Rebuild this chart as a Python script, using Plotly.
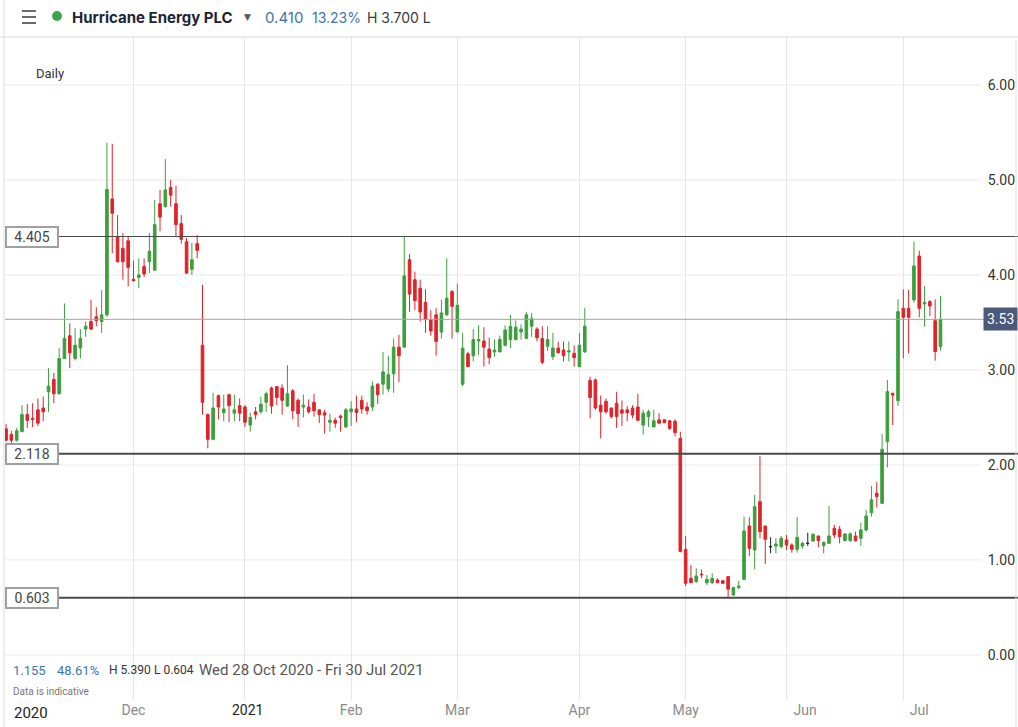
import plotly.graph_objects as go
import pandas as pd

# ---------------- data ----------------
holidays = ['2020-12-25', '2020-12-28', '2021-01-01', '2021-04-02',
            '2021-04-05', '2021-05-03', '2021-05-31']

opens = [2.38, 2.32, 2.26, 2.35, 2.53, 2.49, 2.58, 2.60, 2.77, 2.90,
         2.75, 3.12, 3.36, 3.12, 3.23, 3.43, 3.51, 3.56, 3.51, 3.58,
         4.80, 4.40, 4.28, 4.36, 3.955, 3.975, 4.09, 4.14, 4.05, 4.75,
         4.72, 4.92, 4.75, 4.54, 4.35, 4.06, 4.33, 3.26, 2.53, 2.27,
         2.73, 2.55, 2.74, 2.545, 2.625, 2.61, 2.42, 2.56, 2.56, 2.66,
         2.81, 2.825, 2.81, 2.62, 2.78, 2.68, 2.61, 2.61, 2.66, 2.58,
         2.55, 2.45, 2.47, 2.515, 2.40, 2.56, 2.59, 2.68, 2.61, 2.61,
         2.85, 2.85, 2.80, 2.96, 3.24, 3.24, 4.16, 3.95, 3.86, 3.71,
         3.53, 3.58, 3.40, 3.58, 3.825, 3.40, 2.85, 3.17, 3.15, 3.305,
         3.305, 3.22, 3.19, 3.19, 3.26, 3.32, 3.32, 3.40, 3.33, 3.46,
         3.43, 3.33, 3.25, 3.14, 3.23, 3.21, 3.19, 3.175, 3.035, 3.19,
         2.89, 2.895, 2.63, 2.67, 2.60, 2.65, 2.58, 2.58, 2.60, 2.61,
         2.42, 2.51, 2.40, 2.475, 2.475, 2.465, 2.46, 2.28, 1.11, 0.807,
         0.772, 0.85, 0.761, 0.761, 0.789, 0.782, 0.825, 0.632, 0.709, 0.796,
         1.358, 1.105, 1.614, 1.358, 1.14, 1.147, 1.14, 1.211, 1.158, 1.112,
         1.147, 1.175, 1.20, 1.253, 1.151, 1.175, 1.333, 1.323, 1.204, 1.204,
         1.253, 1.228, 1.316, 1.498, 1.702, 1.596, 2.246, 2.754, 2.677, 3.649,
         3.649, 3.737, 4.20, 3.695, 3.719, 3.519, 3.246]

highs = [2.43, 2.36, 2.39, 2.63, 2.64, 2.65, 2.70, 2.72, 3.02, 2.97,
         3.23, 3.70, 3.49, 3.44, 3.43, 3.51, 3.74, 3.66, 3.84, 5.39,
         5.38, 4.63, 4.44, 4.41, 4.15, 4.175, 4.175, 4.44, 4.79, 4.895,
         5.22, 5.00, 4.94, 4.63, 4.39, 4.34, 4.42, 3.895, 2.54, 2.76,
         2.74, 2.74, 2.75, 2.74, 2.70, 2.63, 2.55, 2.61, 2.72, 2.77,
         2.825, 2.83, 2.85, 3.05, 2.80, 2.70, 2.74, 2.69, 2.75, 2.585,
         2.58, 2.54, 2.50, 2.53, 2.60, 2.67, 2.73, 2.73, 2.66, 2.88,
         2.86, 3.19, 3.15, 3.33, 3.37, 4.41, 4.22, 4.035, 3.95, 3.85,
         3.63, 3.65, 3.74, 4.175, 3.84, 3.91, 3.39, 3.19, 3.43, 3.47,
         3.45, 3.34, 3.32, 3.36, 3.47, 3.58, 3.52, 3.48, 3.61, 3.60,
         3.45, 3.46, 3.46, 3.39, 3.30, 3.30, 3.30, 3.26, 3.39, 3.65,
         2.93, 2.91, 2.73, 2.70, 2.60, 2.77, 2.68, 2.62, 2.63, 2.75,
         2.58, 2.58, 2.58, 2.545, 2.48, 2.475, 2.48, 2.35, 1.25, 0.947,
         0.912, 0.90, 0.842, 0.86, 0.807, 0.79, 0.832, 0.719, 0.779, 1.456,
         1.449, 1.684, 2.095, 1.36, 1.239, 1.228, 1.253, 1.263, 1.175, 1.449,
         1.19, 1.288, 1.28, 1.253, 1.193, 1.568, 1.368, 1.358, 1.28, 1.29,
         1.298, 1.393, 1.526, 1.779, 1.82, 2.326, 2.895, 2.76, 3.744, 3.849,
         3.842, 4.351, 4.256, 3.884, 3.737, 3.744, 3.779]

lows = [2.245, 2.22, 2.245, 2.35, 2.39, 2.40, 2.41, 2.46, 2.56, 2.65,
        2.74, 3.12, 3.02, 3.10, 3.12, 3.35, 3.42, 3.46, 3.39, 3.56,
        4.23, 4.13, 3.95, 3.88, 3.93, 3.86, 3.98, 4.02, 4.05, 4.46,
        4.71, 4.72, 4.41, 4.33, 4.01, 4.00, 4.175, 2.53, 2.175, 2.26,
        2.48, 2.46, 2.45, 2.46, 2.46, 2.40, 2.35, 2.48, 2.54, 2.56,
        2.54, 2.63, 2.53, 2.61, 2.48, 2.40, 2.50, 2.54, 2.51, 2.44,
        2.33, 2.35, 2.39, 2.35, 2.39, 2.41, 2.45, 2.54, 2.53, 2.57,
        2.64, 2.74, 2.765, 2.76, 2.87, 3.24, 3.61, 3.63, 3.51, 3.39,
        3.36, 3.15, 3.33, 3.57, 3.33, 3.40, 2.83, 3.03, 3.09, 3.16,
        3.035, 3.06, 3.14, 3.19, 3.25, 3.23, 3.31, 3.32, 3.33, 3.35,
        3.30, 3.06, 3.20, 3.105, 3.175, 3.09, 3.09, 3.035, 3.03, 3.18,
        2.49, 2.58, 2.28, 2.54, 2.49, 2.39, 2.41, 2.46, 2.49, 2.46,
        2.32, 2.40, 2.40, 2.43, 2.44, 2.37, 2.30, 1.08, 0.726, 0.754,
        0.76, 0.807, 0.737, 0.747, 0.754, 0.75, 0.604, 0.621, 0.691, 0.79,
        1.042, 0.902, 1.228, 0.958, 1.07, 1.07, 1.123, 1.105, 1.077, 1.077,
        1.12, 1.147, 1.19, 1.133, 1.07, 1.168, 1.228, 1.175, 1.193, 1.19,
        1.193, 1.147, 1.298, 1.456, 1.554, 1.59, 1.975, 2.421, 2.621, 3.123,
        3.175, 3.709, 3.554, 3.456, 3.568, 3.098, 3.203]

closes = [2.26, 2.26, 2.36, 2.53, 2.47, 2.48, 2.44, 2.56, 2.83, 2.75,
          3.12, 3.33, 3.18, 3.26, 3.33, 3.46, 3.43, 3.52, 3.58, 4.90,
          4.65, 4.14, 4.14, 4.08, 3.94, 4.00, 4.01, 4.25, 4.53, 4.61,
          4.895, 4.84, 4.53, 4.375, 4.02, 4.16, 4.26, 2.66, 2.27, 2.60,
          2.61, 2.59, 2.625, 2.58, 2.545, 2.45, 2.50, 2.53, 2.64, 2.75,
          2.62, 2.71, 2.68, 2.75, 2.57, 2.54, 2.63, 2.56, 2.57, 2.53,
          2.525, 2.47, 2.44, 2.50, 2.58, 2.59, 2.55, 2.59, 2.57, 2.83,
          2.74, 2.98, 2.95, 3.24, 3.15, 3.99, 3.80, 3.73, 3.61, 3.53,
          3.41, 3.30, 3.60, 3.755, 3.67, 3.68, 3.23, 3.035, 3.32, 3.32,
          3.24, 3.13, 3.21, 3.32, 3.42, 3.46, 3.45, 3.43, 3.58, 3.54,
          3.34, 3.08, 3.32, 3.23, 3.18, 3.15, 3.20, 3.13, 3.26, 3.46,
          2.71, 2.60, 2.56, 2.56, 2.51, 2.51, 2.545, 2.55, 2.525, 2.47,
          2.545, 2.56, 2.465, 2.44, 2.445, 2.385, 2.34, 1.09, 0.755, 0.761,
          0.832, 0.845, 0.796, 0.807, 0.761, 0.754, 0.693, 0.709, 0.726, 1.305,
          1.123, 1.561, 1.298, 1.218, 1.14, 1.168, 1.228, 1.158, 1.112, 1.239,
          1.175, 1.175, 1.27, 1.204, 1.186, 1.253, 1.263, 1.246, 1.274, 1.274,
          1.204, 1.316, 1.463, 1.632, 1.667, 2.165, 2.772, 2.737, 3.614, 3.554,
          3.554, 4.095, 3.649, 3.709, 3.674, 3.193, 3.533]

levels = [4.405, 2.118, 0.603]
last_price = 3.533
y_ticks = [0, 1, 2, 3, 4, 5, 6]
month_starts = ['2020-12-01', '2021-01-04', '2021-02-01', '2021-03-01', '2021-04-01',
                '2021-05-04', '2021-06-01', '2021-07-01']
x_tick_vals = ['2020-12-01', '2021-01-04 12:00', '2021-02-01', '2021-03-01', '2021-04-01',
               '2021-05-04', '2021-06-04 12:00', '2021-07-06']
x_tick_text = ['Dec', '2021', 'Feb', 'Mar', 'Apr', 'May', 'Jun', 'Jul']

dates = pd.bdate_range('2020-10-28', '2021-07-30', freq='C', holidays=holidays)[:len(opens)]
dates = [d.strftime('%Y-%m-%d') for d in dates]

# ---------------- figure ----------------
W, H = 1018, 727
ML, MR, MT, MB = 5, 0, 37, 27


def px(x):
    return (x - ML) / (W - ML - MR)


def py(y):
    return (H - MB - y) / (H - MT - MB)


GREEN = '#3c9f3c'
RED = '#e0232a'

reg = [i for i in range(len(opens)) if opens[i] != closes[i]]
doj = [i for i in range(len(opens)) if opens[i] == closes[i]]

fig = go.Figure()
fig.add_trace(go.Candlestick(
    x=[dates[i] for i in reg], open=[opens[i] for i in reg], high=[highs[i] for i in reg],
    low=[lows[i] for i in reg], close=[closes[i] for i in reg],
    increasing=dict(line=dict(color=GREEN, width=1), fillcolor=GREEN),
    decreasing=dict(line=dict(color=RED, width=1), fillcolor=RED),
    showlegend=False, hoverinfo='skip'))
fig.add_trace(go.Candlestick(
    x=[dates[i] for i in doj], open=[opens[i] for i in doj], high=[highs[i] for i in doj],
    low=[lows[i] for i in doj], close=[closes[i] for i in doj],
    increasing=dict(line=dict(color='#222222', width=1), fillcolor='#222222'),
    decreasing=dict(line=dict(color='#222222', width=1), fillcolor='#222222'),
    showlegend=False, hoverinfo='skip'))

shapes = []
# horizontal gridlines (stop before the right-hand labels)
for v in y_ticks:
    shapes.append(dict(type='line', xref='paper', yref='y', x0=0, x1=px(981), y0=v, y1=v,
                       line=dict(color='#e9e9e9', width=1), layer='below'))
# level lines
shapes.append(dict(type='line', xref='paper', yref='y', x0=0, x1=1, y0=last_price, y1=last_price,
                   line=dict(color='#a3a3a3', width=1)))
for lv, w in zip(levels, [1, 2, 2]):
    shapes.append(dict(type='line', xref='paper', yref='y', x0=0, x1=1, y0=lv, y1=lv,
                       line=dict(color='#4a4a4a', width=w)))
# header separator, borders
shapes.append(dict(type='line', xref='paper', yref='paper', x0=px(0), x1=px(W), y0=py(37), y1=py(37),
                   line=dict(color='#d9d9d9', width=1)))
shapes.append(dict(type='line', xref='paper', yref='paper', x0=px(4), x1=px(4), y0=py(0), y1=py(H),
                   line=dict(color='#dcdcdc', width=1)))
shapes.append(dict(type='line', xref='paper', yref='paper', x0=px(1016), x1=px(1016), y0=py(40), y1=py(H),
                   line=dict(color='#e3e3e3', width=1)))
# hamburger icon
for yy in [11, 17, 23]:
    shapes.append(dict(type='line', xref='paper', yref='paper', x0=px(22), x1=px(36), y0=py(yy), y1=py(yy),
                       line=dict(color='#6a6a6a', width=2)))
# green status dot
shapes.append(dict(type='circle', xref='paper', yref='paper', x0=px(52), x1=px(62), y0=py(21), y1=py(11),
                   fillcolor='#3aa548', line=dict(color='#3aa548', width=0)))

ann = []


def text(x, y, s, size=13, color='#333333', anchor='left', family='Roboto'):
    ann.append(dict(x=px(x), y=py(y), xref='paper', yref='paper', text=s, showarrow=False,
                    xanchor=anchor, yanchor='middle', font=dict(size=size, color=color, family=family)))


text(70, 17, '<b>Hurricane Energy PLC</b>', 15, '#1c2536', family='Inter')
text(247, 17, '▼', 9, '#555555', anchor='center', family='DejaVu Sans')
text(263, 17, '0.410', 15, '#3d74ab', family='Inter')
text(310, 17, '13.23%', 14, '#3d74ab', family='Inter')
text(365, 17, 'H 3.700 L', 14, '#3a3a3a', family='Inter')
text(34, 73, 'Daily', 13, '#333333')
text(11, 670, '1.155', 13, '#3d74ab')
text(55, 670, '48.61%', 13, '#3d74ab')
text(107, 670, 'H 5.390', 12, '#333333')
text(152, 670, 'L 0.604', 12, '#333333')
text(197, 670, 'Wed 28 Oct 2020 - Fri 30 Jul 2021', 15, '#555555')
text(11, 691, 'Data is indicative', 10, '#777777')
text(12, 713, '2020', 15, '#222222')

# level labels on the left
for lv in levels:
    ann.append(dict(x=0, y=lv, xref='paper', yref='y', text='%.3f' % lv, showarrow=False,
                    xanchor='left', yanchor='middle', width=50, height=18, align='center',
                    bgcolor='white', bordercolor='#a0a0a0', borderwidth=2, borderpad=0,
                    font=dict(size=14, color='#444444', family='Roboto')))
# last price label
ann.append(dict(x=1, y=last_price, xref='paper', yref='y', text='%.2f' % last_price, showarrow=False,
                xanchor='right', yanchor='middle', bgcolor='#4b5a7a', borderpad=3,
                font=dict(size=14, color='white', family='Roboto')))

tick_text_styled = [('<span style="color:#222222">%s</span>' % t) if t.isdigit() else t for t in x_tick_text]

fig.update_layout(
    width=W, height=H,
    margin=dict(l=ML, r=MR, t=MT, b=MB),
    paper_bgcolor='white', plot_bgcolor='white',
    shapes=shapes, annotations=ann,
    showlegend=False,
    xaxis=dict(
        type='date',
        range=['2020-10-27 19:12:00', '2021-07-30 14:24:00'],
        rangebreaks=[dict(bounds=['sat', 'mon']), dict(values=holidays)],
        rangeslider=dict(visible=False),
        tickvals=x_tick_vals, ticktext=tick_text_styled,
        tickfont=dict(size=14, color='#8a8a8a', family='Roboto'),
        showgrid=False, zeroline=False, showline=False, ticks='',
        minor=dict(tickvals=month_starts, showgrid=True, gridcolor='#e6e6e6', gridwidth=1, ticks=''),
    ),
    yaxis=dict(
        range=[-0.474, 6.505],
        side='right', ticklabelposition='inside',
        tickvals=y_ticks, ticktext=['%.2f' % v for v in y_ticks],
        tickfont=dict(size=14, color='#333333', family='Roboto'),
        showgrid=False, zeroline=False, showline=False, ticks='',
    ),
)

fig.write_html('out.html', config={'displayModeBar': False},
               post_script="document.body.style.margin='0px';document.body.style.overflow='hidden';")
